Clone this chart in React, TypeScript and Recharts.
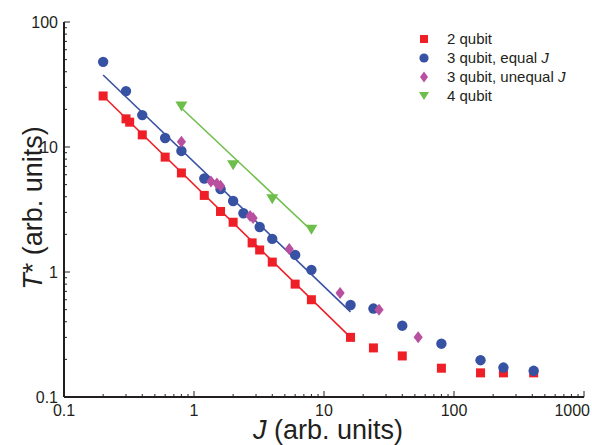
import React from "react";
import { ScatterChart, Scatter, XAxis, YAxis } from "recharts";

// 2 qubit
const twoQubitJ = [0.2, 0.3, 0.32, 0.4, 0.6, 0.8, 1.2, 1.6, 2, 2.8, 3.2, 4, 6, 8, 16, 24, 40, 80, 160, 240, 410];
const twoQubitT = [25.6, 16.8, 15.8, 12.5, 8.3, 6.2, 4.1, 3.05, 2.5, 1.71, 1.5, 1.2, 0.8, 0.6, 0.3, 0.247, 0.213, 0.17, 0.156, 0.156, 0.156];

// 3 qubit, equal J
const equalJ = [0.2, 0.3, 0.4, 0.6, 0.8, 1.2, 1.6, 2, 2.4, 3.2, 4, 6, 8, 16, 24, 40, 80, 160, 240, 410];
const equalT = [48, 28, 18, 11.8, 9.3, 5.6, 4.6, 3.7, 2.95, 2.29, 1.84, 1.37, 1.04, 0.545, 0.51, 0.372, 0.267, 0.197, 0.172, 0.162];

// 3 qubit, unequal J
const unequalJ = [0.8, 1.35, 1.5, 1.6, 2.7, 2.85, 5.4, 13.3, 26.5, 53];
const unequalT = [11, 5.3, 5.1, 4.9, 2.8, 2.7, 1.53, 0.68, 0.5, 0.3];

// 4 qubit
const fourQubitJ = [0.8, 2, 4, 8];
const fourQubitT = [21.3, 7.2, 3.85, 2.2];

// fitted power laws (end points)
const redFitJ = [0.2, 16];
const redFitT = [25.6, 0.3];
const blueFitJ = [0.2, 16];
const blueFitT = [37.7, 0.48];
const greenFitJ = [0.78, 8.2];
const greenFitT = [21, 2.1];

const xMajor = [0.1, 1, 10, 100, 1000];
const xLabels = ["0.1", "1", "10", "100", "1000"];
const yMajor = [0.1, 1, 10, 100];
const yLabels = ["0.1", "1", "10", "100"];
const minorSteps = [1, 2, 3, 4, 5, 6, 7, 8, 9];

const xTicks = [...xMajor.slice(0, -1).flatMap((d) => minorSteps.map((m) => d * m)), 1000];
const yTicks = [...yMajor.slice(0, -1).flatMap((d) => minorSteps.map((m) => d * m)), 100];

const INK = "#231f20";
const RED = "#ee1f26";
const BLUE = "#3852a3";
const MAGENTA = "#b9509f";
const GREEN = "#6dbe4a";
const FONT = "Arial, 'Liberation Sans', Helvetica, sans-serif";

const zip = (xs: number[], ys: number[]) => xs.map((x, i) => ({ x, y: ys[i] }));
const majorIndex = (v: number, majors: number[]) => majors.findIndex((m) => Math.abs(v / m - 1) < 1e-6);

const BottomTick = ({ x, y, payload }: any) => {
  const i = majorIndex(payload.value, xMajor);
  const last = i === xMajor.length - 1;
  return (
    <g>
      <line x1={x} y1={y} x2={x} y2={y - (i >= 0 ? 6 : 3)} stroke={INK} strokeWidth={1} />
      {i >= 0 && (
        <text x={last ? x + 6 : x} y={y + 19} textAnchor={last ? "end" : "middle"} fontSize={16} fill={INK} fontFamily={FONT}>
          {xLabels[i]}
        </text>
      )}
    </g>
  );
};

const TopTick = ({ x, y, payload }: any) => {
  const i = majorIndex(payload.value, xMajor);
  return <line x1={x} y1={y} x2={x} y2={y + (i >= 0 ? 6 : 3)} stroke={INK} strokeWidth={1} />;
};

const LeftTick = ({ x, y, payload }: any) => {
  const i = majorIndex(payload.value, yMajor);
  return (
    <g>
      <line x1={x} y1={y} x2={x + (i >= 0 ? 6 : 3)} y2={y} stroke={INK} strokeWidth={1} />
      {i >= 0 && (
        <text x={x - 6} y={y + 6} textAnchor="end" fontSize={16} fill={INK} fontFamily={FONT}>
          {yLabels[i]}
        </text>
      )}
    </g>
  );
};

const RightTick = ({ x, y, payload }: any) => {
  const i = majorIndex(payload.value, yMajor);
  return <line x1={x} y1={y} x2={x - (i >= 0 ? 6 : 3)} y2={y} stroke={INK} strokeWidth={1} />;
};

const Square = ({ cx, cy }: any) => <rect x={cx - 4.5} y={cy - 4.5} width={9} height={9} fill={RED} />;
const Dot = ({ cx, cy }: any) => <circle cx={cx} cy={cy} r={5.2} fill={BLUE} />;
const Diamond = ({ cx, cy }: any) => (
  <polygon points={`${cx},${cy - 6} ${cx + 4.6},${cy} ${cx},${cy + 6} ${cx - 4.6},${cy}`} fill={MAGENTA} />
);
const TriDown = ({ cx, cy }: any) => (
  <polygon points={`${cx - 6},${cy - 4.5} ${cx + 6},${cy - 4.5} ${cx},${cy + 5.5}`} fill={GREEN} />
);
const NoShape = () => <g />;

const XTitle = ({ viewBox }: any) => (
  <text x={viewBox.x + viewBox.width / 2 + 4} y={439} textAnchor="middle" fontSize={27} fill={INK} fontFamily={FONT}>
    <tspan fontStyle="italic">J</tspan> (arb. units)
  </text>
);

const YTitle = () => (
  <text x={42} y={208} transform="rotate(-90, 42, 208)" textAnchor="middle" fontSize={27} fill={INK} fontFamily={FONT}>
    <tspan fontStyle="italic">T</tspan>* (arb. units)
  </text>
);

const legendItems = [
  { label: "2 qubit", italic: "", icon: <rect x={2} y={2} width={8} height={8} fill={RED} /> },
  { label: "3 qubit, equal ", italic: "J", icon: <circle cx={6} cy={6} r={4.6} fill={BLUE} /> },
  { label: "3 qubit, unequal ", italic: "J", icon: <polygon points="6,0.5 10,6 6,11.5 2,6" fill={MAGENTA} /> },
  { label: "4 qubit", italic: "", icon: <polygon points="1,2 11,2 6,10" fill={GREEN} /> },
];

const axisLine = { stroke: INK, strokeWidth: 2 };

export default function App() {
  return (
    <div style={{ position: "absolute", left: 0, top: 0, width: 592, height: 445, background: "#fff", fontFamily: FONT }}>
      <ScatterChart width={592} height={445} margin={{ top: 22, right: 8, bottom: 0, left: 0 }}>
        <XAxis
          dataKey="x"
          type="number"
          scale="log"
          domain={[0.1, 1000]}
          allowDataOverflow
          ticks={xTicks}
          interval={0}
          height={48}
          tickSize={0}
          tickMargin={0}
          tickLine={false}
          tick={BottomTick}
          axisLine={axisLine}
          label={<XTitle />}
        />
        <XAxis
          xAxisId="top"
          orientation="top"
          type="number"
          scale="log"
          domain={[0.1, 1000]}
          allowDataOverflow
          ticks={xTicks}
          interval={0}
          height={0}
          tickSize={0}
          tickMargin={0}
          tickLine={false}
          tick={TopTick}
          axisLine={axisLine}
        />
        <YAxis
          dataKey="y"
          type="number"
          scale="log"
          domain={[0.1, 100]}
          allowDataOverflow
          ticks={yTicks}
          interval={0}
          width={64}
          tickSize={0}
          tickMargin={0}
          tickLine={false}
          tick={LeftTick}
          axisLine={axisLine}
          label={<YTitle />}
        />
        <YAxis
          yAxisId="right"
          orientation="right"
          type="number"
          scale="log"
          domain={[0.1, 100]}
          allowDataOverflow
          ticks={yTicks}
          interval={0}
          width={0}
          tickSize={0}
          tickMargin={0}
          tickLine={false}
          tick={RightTick}
          axisLine={axisLine}
        />
        <Scatter data={zip(redFitJ, redFitT)} line={{ stroke: RED, strokeWidth: 1.6 }} shape={NoShape} isAnimationActive={false} />
        <Scatter data={zip(blueFitJ, blueFitT)} line={{ stroke: BLUE, strokeWidth: 1.6 }} shape={NoShape} isAnimationActive={false} />
        <Scatter data={zip(greenFitJ, greenFitT)} line={{ stroke: GREEN, strokeWidth: 1.6 }} shape={NoShape} isAnimationActive={false} />
        <Scatter data={zip(twoQubitJ, twoQubitT)} shape={Square} isAnimationActive={false} />
        <Scatter data={zip(equalJ, equalT)} shape={Dot} isAnimationActive={false} />
        <Scatter data={zip(unequalJ, unequalT)} shape={Diamond} isAnimationActive={false} />
        <Scatter data={zip(fourQubitJ, fourQubitT)} shape={TriDown} isAnimationActive={false} />
      </ScatterChart>
      <div style={{ position: "absolute", left: 418, top: 29 }}>
        {legendItems.map((item) => (
          <div key={item.label} style={{ display: "flex", alignItems: "center", height: 19, fontSize: 15, color: INK }}>
            <svg width={12} height={12} style={{ marginRight: 17 }}>
              {item.icon}
            </svg>
            <span>
              {item.label}
              {item.italic && <i>{item.italic}</i>}
            </span>
          </div>
        ))}
      </div>
    </div>
  );
}
